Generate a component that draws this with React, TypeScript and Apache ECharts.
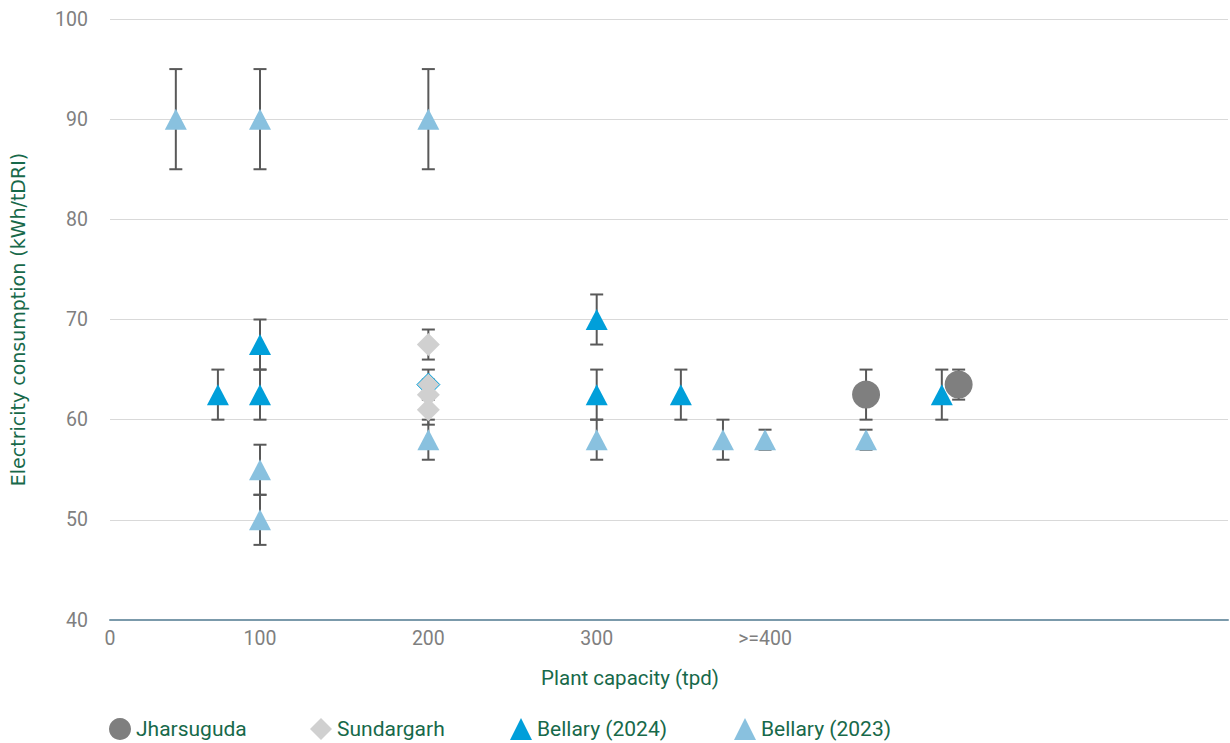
import React, { useEffect, useRef } from "react";
import * as echarts from "echarts";

// ---- data ----
const jharX = [460, 515];
const jharY = [62.5, 63.5];
const jharErr = [2.5, 1.5];

const sundX = [200, 200, 200, 200];
const sundY = [67.5, 63.5, 62.5, 61];
const sundErr = [1.5, 1.5, 1.5, 1.5];

const b24X = [75, 100, 100, 300, 300, 350, 505];
const b24Y = [62.5, 67.5, 62.5, 70, 62.5, 62.5, 62.5];
const b24Err = [2.5, 2.5, 2.5, 2.5, 2.5, 2.5, 2.5];

const b23X = [50, 100, 200, 100, 100, 200, 300, 375, 400, 460];
const b23Y = [90, 90, 90, 55, 50, 58, 58, 58, 58, 58];
const b23Err = [5, 5, 5, 2.5, 2.5, 2, 2, 2, 1, 1];

const xTickValues = [10.9, 100, 200, 300, 400];
const xTickLabels = ["0", "100", "200", "300", ">=400"];

const seriesNames = ["Jharsuguda", "Sundargarh", "Bellary (2024)", "Bellary (2023)"];
const seriesIcons = ["circle", "diamond", "triangle", "triangle"];
const legendLefts = [104, 305, 505, 729];

const GREEN = "#17694a";
const FONT = "Roboto, 'Noto Sans', sans-serif";

function points(xs: number[], ys: number[]) {
  return xs.map((x, i) => [x, ys[i]]);
}
function errs(xs: number[], ys: number[], es: number[]) {
  return xs.map((x, i) => [x, ys[i] - es[i], ys[i] + es[i]]);
}

const errRender = (params: any, api: any) => {
  const x = api.value(0);
  const lo = api.value(1);
  const hi = api.value(2);
  const p1 = api.coord([x, hi]);
  const p2 = api.coord([x, lo]);
  const w = 6.5;
  const style = { stroke: "#595959", lineWidth: 2 };
  return {
    type: "group",
    children: [
      { type: "line", shape: { x1: p1[0], y1: p1[1], x2: p2[0], y2: p2[1] }, style },
      { type: "line", shape: { x1: p1[0] - w, y1: p1[1], x2: p1[0] + w, y2: p1[1] }, style },
      { type: "line", shape: { x1: p2[0] - w, y1: p2[1], x2: p2[0] + w, y2: p2[1] }, style },
    ],
  };
};

function errSeries(data: number[][]) {
  return {
    type: "custom",
    renderItem: errRender,
    data,
    encode: { x: 0, y: [1, 2] },
    z: 1,
    silent: true,
  };
}

export default function App() {
  const ref = useRef<HTMLDivElement>(null);
  useEffect(() => {
    if (!ref.current) return;
    const chart = echarts.init(ref.current, null, { renderer: "svg" });
    const sundData: any[] = points(sundX, sundY).map((p, i) =>
      i === 1
        ? { value: p, itemStyle: { borderColor: "#009fda", borderWidth: 1 } }
        : p
    );
    chart.setOption({
      animation: false,
      backgroundColor: "#ffffff",
      textStyle: { fontFamily: FONT },
      grid: { left: 110, right: 2, top: 19, bottom: 123, containLabel: false },
      xAxis: {
        type: "value",
        min: 10.9,
        max: 675,
        name: "Plant capacity (tpd)",
        nameLocation: "middle",
        nameGap: 47,
        nameTextStyle: { color: GREEN, fontSize: 20.5, fontFamily: FONT, padding: [0, 78, 0, 0] },
        axisLine: { show: true, lineStyle: { color: "#7b9aab", width: 2 } },
        axisTick: { show: false },
        splitLine: { show: false },
        axisLabel: {
          customValues: xTickValues,
          color: "#7f7f7f",
          fontSize: 19.5,
          margin: 8,
          formatter: (v: number) => {
            const i = xTickValues.findIndex((t) => Math.abs(t - v) < 1e-6);
            return i >= 0 ? xTickLabels[i] : "";
          },
        },
      },
      yAxis: {
        type: "value",
        min: 40,
        max: 100,
        interval: 10,
        name: "Electricity consumption (kWh/tDRI)",
        nameLocation: "middle",
        nameGap: 83,
        nameTextStyle: { color: GREEN, fontSize: 19, fontFamily: "'DejaVu Sans', sans-serif" },
        axisLine: { show: false },
        axisTick: { show: false },
        splitLine: { lineStyle: { color: "#d9d9d9", width: 1 } },
        axisLabel: { color: "#7f7f7f", fontSize: 19.5, margin: 22 },
      },
      legend: seriesNames.map((n, i) => ({
        left: legendLefts[i],
        top: 713,
        itemWidth: 22,
        itemHeight: 22,
        textStyle: { color: GREEN, fontSize: 21, fontFamily: FONT },
        data: [{ name: n, icon: seriesIcons[i] }],
      })),
      series: [
        errSeries(errs(jharX, jharY, jharErr)),
        errSeries(errs(sundX, sundY, sundErr)),
        errSeries(errs(b24X, b24Y, b24Err)),
        errSeries(errs(b23X, b23Y, b23Err)),
        {
          name: seriesNames[0],
          type: "scatter",
          symbol: "circle",
          symbolSize: 28,
          itemStyle: { color: "#7f7f7f", opacity: 1 },
          data: points(jharX, jharY),
          z: 3,
        },
        {
          name: seriesNames[1],
          type: "scatter",
          symbol: "diamond",
          symbolSize: [23, 23],
          itemStyle: { color: "#d0d0d0", opacity: 1 },
          data: sundData,
          z: 3,
        },
        {
          name: seriesNames[2],
          type: "scatter",
          symbol: "triangle",
          symbolSize: [22, 21],
          itemStyle: { color: "#009fda", opacity: 1 },
          data: points(b24X, b24Y),
          z: 3,
        },
        {
          name: seriesNames[3],
          type: "scatter",
          symbol: "triangle",
          symbolSize: [22, 21],
          itemStyle: { color: "#89c1df", opacity: 1 },
          data: points(b23X, b23Y),
          z: 3,
        },
      ],
    });
    return () => chart.dispose();
  }, []);
  return (
    <div
      ref={ref}
      style={{ position: "fixed", left: 0, top: 0, width: 1230, height: 743 }}
    />
  );
}
